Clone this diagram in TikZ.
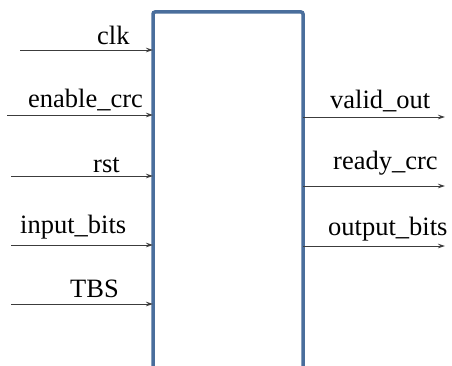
\documentclass[tikz,border=0pt]{standalone}
\usepackage{fontspec}
\newfontfamily\pinfont{LiberationSerif-Regular.ttf}
\usetikzlibrary{arrows.meta}
\definecolor{boxblue}{RGB}{74,110,156}
\definecolor{wire}{RGB}{60,60,60}
\begin{document}
\begin{tikzpicture}[x=1pt,y=-1pt,
  blockbox/.style={draw=boxblue,line width=3.5pt,rounded corners=2pt,fill=white,
    minimum width=150pt,minimum height=380pt,inner sep=0pt,outer sep=0pt},
  sig/.style={draw=wire,line width=0.9pt,-{Stealth[length=7pt,width=4.5pt]}},
  lbl/.style={font=\pinfont\fontsize{26.5}{26.5}\selectfont,inner sep=0pt,anchor=base west}]
\useasboundingbox (0,0) rectangle (452,366);
\node[blockbox] (core) at (228,202) {};

% input pins
\coordinate (clk) at (20,50);
\coordinate (en) at (7,115);
\coordinate (rst) at (11,176);
\coordinate (inb) at (11,245);
\coordinate (tbs) at (11,304);
\draw[sig] (clk) -- (clk -| core.west);
\draw[sig] (en) -- (en -| core.west);
\draw[sig] (rst) -- (rst -| core.west);
\draw[sig] (inb) -- (inb -| core.west);
\draw[sig] (tbs) -- (tbs -| core.west);
\node[lbl] (lclk) at (97,45) {clk};
\node[lbl] (len) at (28,108) {enable\_crc};
\node[lbl] (lrst) at (93,172) {rst};
\node[lbl] (linb) at (20,233) {input\_bits};
\node[lbl] (ltbs) at (70,297) {TBS};

% output pins
\coordinate (vo) at (445,117);
\coordinate (rc) at (445,186);
\coordinate (ob) at (445,246);
\draw[sig] (vo -| core.east) -- (vo);
\draw[sig] (rc -| core.east) -- (rc);
\draw[sig] (ob -| core.east) -- (ob);
\node[lbl] (lvo) at (330,109) {valid\_out};
\node[lbl] (lrc) at (333,170) {ready\_crc};
\node[lbl] (lob) at (328,235) {output\_bits};
\end{tikzpicture}
\end{document}
